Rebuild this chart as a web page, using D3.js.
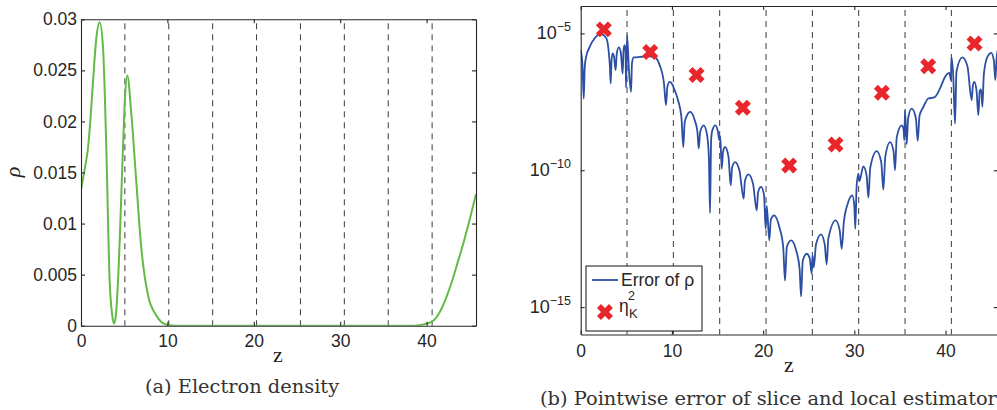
<!DOCTYPE html>
<html>
<head>
<meta charset="utf-8">
<script src="https://cdn.jsdelivr.net/npm/d3@7"></script>
<style>
  body { margin: 0; background: #fff; }
  svg { display: block; }
  .tick text { font-family: "Liberation Sans", Arial, sans-serif; font-size: 17.5px; fill: #262626; }
  .axis path, .axis line { stroke: #262626; stroke-width: 1.1; }
</style>
</head>
<body>
<script>
// slab length and slice boundaries
var zMax = 45.72;
var sliceEdges = [5.08, 10.16, 15.24, 20.32, 25.4, 30.48, 35.56, 40.64];
var zTicks = [0, 10, 20, 30, 40];
var rhoTicks = [0, 0.005, 0.01, 0.015, 0.02, 0.025, 0.03];
var errTicks = [1e-15, 1e-10, 1e-5];
var errTickExp = ["\u221215", "\u221210", "\u22125"];

// (a) electron density
var densityZ = [0, 0.4, 0.81, 1.1, 1.39, 1.78, 2.16, 2.55, 2.93, 3.32, 3.6, 3.82, 4.05, 4.28, 4.86, 5.1, 5.36, 5.83, 6.4, 6.98, 7.75, 8.72, 9.88, 11, 15, 20, 25, 30, 35, 38, 39, 40, 40.8, 41.5, 42.3, 43, 43.6, 44.2, 44.9, 45.72];
var densityRho = [0.0133, 0.0152, 0.0174, 0.0203, 0.0239, 0.0282, 0.0297, 0.0272, 0.0174, 0.0043, 0.0011, 0.0002, 0.0011, 0.0043, 0.0174, 0.0225, 0.0245, 0.0207, 0.0141, 0.0076, 0.003, 0.001, 0.0001, 0, 0, 0, 0, 0, 0, 0, 0.00003, 0.0002, 0.0005, 0.0013, 0.0028, 0.0045, 0.0062, 0.0079, 0.0101, 0.0129];

// (b) pointwise error of rho (log10 of value)
var errZ = [0, 0.2, 0.33, 0.45, 0.6, 0.99, 1.53, 2.19, 2.81, 3.05, 3.2, 3.29, 3.38, 3.5, 3.65, 3.83, 3.95, 4.17, 4.4, 4.6, 4.7, 4.82, 4.92, 4.97, 5.08, 5.3, 5.52, 5.62, 5.8, 6.5, 7.5, 8.1, 8.66, 9.13, 9.35, 9.5, 9.76, 10.0, 10.16, 10.67, 11.04, 11.25, 11.4, 11.58, 12.02, 12.5, 12.8, 12.94, 13.1, 13.49, 13.85, 14.05, 14.18, 14.3, 14.43, 14.76, 15.05, 15.2, 15.3, 15.46, 15.6, 15.82, 16.2, 16.45, 16.6, 16.92, 17.4, 17.87, 18.0, 18.38, 18.9, 19.3, 19.45, 19.77, 20.1, 20.28, 20.4, 20.68, 20.85, 21.2, 21.8, 22.2, 22.4, 22.6, 23.06, 23.6, 24.0, 24.16, 24.35, 24.78, 25.1, 25.33, 25.42, 25.55, 25.8, 26.35, 26.75, 26.97, 27.15, 27.96, 28.4, 28.62, 28.85, 29.3, 29.78, 30.0, 30.11, 30.25, 30.44, 30.55, 30.99, 31.35, 31.54, 31.75, 32.45, 32.95, 33.18, 33.4, 33.91, 34.3, 34.46, 34.65, 35.2, 35.4, 35.48, 35.56, 35.74, 35.9, 36.29, 36.75, 36.95, 37.15, 37.57, 38.11, 38.77, 39.4, 39.94, 40.42, 40.6, 40.64, 40.85, 41.04, 41.2, 41.84, 42.4, 42.87, 43.0, 43.16, 43.4, 43.6, 43.75, 43.9, 44.04, 44.2, 44.6, 45.02, 45.3, 45.46, 45.6, 45.72];
var errExp = [-5.61, -6.2, -7.38, -6.2, -5.85, -5.49, -5.18, -5.03, -5.18, -5.6, -6.2, -6.83, -6.0, -5.73, -5.85, -6.34, -5.75, -5.51, -5.7, -6.47, -5.6, -5.43, -5.7, -6.98, -5.06, -6.4, -7.14, -6.1, -5.88, -5.86, -5.84, -5.87, -6.16, -6.83, -7.62, -6.95, -6.77, -6.84, -6.95, -7.44, -8.05, -9.15, -8.25, -8.05, -7.87, -8.17, -8.6, -9.21, -8.6, -8.36, -8.7, -9.5, -11.56, -8.9, -8.54, -8.36, -8.6, -8.9, -8.75, -9.94, -9.35, -9.15, -9.5, -10.55, -9.9, -9.7, -10.0, -11.04, -10.4, -10.15, -10.5, -11.47, -10.8, -10.61, -10.9, -12.14, -11.3, -12.56, -11.8, -11.65, -12.1, -12.8, -14.03, -12.8, -12.56, -12.9, -13.6, -14.61, -13.3, -13.05, -13.2, -13.78, -13.1, -13.55, -12.7, -12.34, -12.7, -13.44, -12.5, -11.83, -12.2, -12.87, -11.9, -11.2, -10.92, -11.3, -12.14, -10.6, -10.12, -10.4, -9.86, -10.2, -11.0, -9.9, -9.3, -9.7, -10.71, -9.5, -8.97, -9.3, -10.0, -8.8, -8.36, -8.5, -8.9, -7.81, -9.05, -8.1, -7.75, -8.1, -8.93, -8.0, -7.69, -7.38, -7.34, -7.01, -6.59, -6.44, -6.71, -5.86, -6.6, -8.3, -6.4, -5.88, -6.2, -7.44, -6.9, -6.77, -7.1, -7.99, -7.1, -7.05, -7.68, -6.5, -5.85, -5.71, -6.0, -6.71, -5.9, -5.61];

// (b) local estimator eta_K^2, one per slice
var etaZ = [2.54, 7.62, 12.7, 17.78, 22.86, 27.94, 33.02, 38.1, 43.18];
var etaVal = [1.4e-5, 2.1e-6, 3.0e-7, 1.9e-8, 1.5e-10, 8.7e-10, 6.8e-8, 6.3e-7, 4.3e-6];

var svg = d3.select("body").append("svg")
    .attr("width", 997)
    .attr("height", 410);

var defs = svg.append("defs");

function frame(g, x, y, yTicks, fmt, padBottom, padLeft) {
    var x0 = x.range()[0], x1 = x.range()[1];
    var y0 = y.range()[0], y1 = y.range()[1];
    g.append("g").attr("class", "axis")
        .attr("transform", "translate(0," + y0 + ")")
        .call(d3.axisBottom(x).tickValues(zTicks).tickSize(-4).tickSizeOuter(0).tickPadding(padBottom).tickFormat(d3.format("d")));
    g.append("g").attr("class", "axis")
        .attr("transform", "translate(0," + y1 + ")")
        .call(d3.axisTop(x).tickValues(zTicks).tickSize(-4).tickSizeOuter(0).tickFormat(""));
    g.append("g").attr("class", "axis")
        .attr("transform", "translate(" + x0 + ",0)")
        .call(d3.axisLeft(y).tickValues(yTicks).tickSize(-4).tickSizeOuter(0).tickPadding(padLeft).tickFormat(fmt));
    g.append("g").attr("class", "axis")
        .attr("transform", "translate(" + x1 + ",0)")
        .call(d3.axisRight(y).tickValues(yTicks).tickSize(-4).tickSizeOuter(0).tickFormat(""));
}

function slices(g, x, y) {
    g.selectAll(".slice")
        .data(sliceEdges)
        .enter().append("line")
        .attr("x1", function (d) { return x(d); })
        .attr("x2", function (d) { return x(d); })
        .attr("y1", y.range()[1] + 4)
        .attr("y2", y.range()[0])
        .attr("stroke", "#3a3a3a")
        .attr("stroke-width", 1)
        .attr("stroke-dasharray", "6,5");
}

// ---------- (a) ----------
var xa = d3.scaleLinear().domain([0, zMax]).range([81, 476]);
var ya = d3.scaleLinear().domain([0, 0.03]).range([325.7, 19.3]);

defs.append("clipPath").attr("id", "clipA").append("rect")
    .attr("x", 81).attr("y", 19.3).attr("width", 395).attr("height", 306.4);

var ga = svg.append("g");
slices(ga, xa, ya);

var densityData = densityZ.map(function (z, i) { return [z, densityRho[i]]; });
ga.append("path")
    .datum(densityData)
    .attr("clip-path", "url(#clipA)")
    .attr("fill", "none")
    .attr("stroke", "#62bb46")
    .attr("stroke-width", 2)
    .attr("d", d3.line()
        .x(function (d) { return xa(d[0]); })
        .y(function (d) { return ya(d[1]); })
        .curve(d3.curveMonotoneX));

frame(ga, xa, ya, rhoTicks, function (d) { return d === 0 ? "0" : String(+d.toFixed(3)); }, 9, 4);

ga.append("text")
    .attr("transform", "translate(20,172) rotate(-90)")
    .attr("text-anchor", "middle")
    .style("font-family", "'Liberation Serif', serif")
    .style("font-style", "italic")
    .style("font-size", "22px")
    .style("fill", "#222")
    .text("\u03c1");

ga.append("text")
    .attr("x", 278).attr("y", 362)
    .attr("text-anchor", "middle")
    .style("font-family", "'Liberation Serif', serif")
    .style("font-size", "22px")
    .style("fill", "#222")
    .text("z");

ga.append("text")
    .attr("x", 242).attr("y", 393)
    .attr("text-anchor", "middle")
    .style("font-family", "'DejaVu Serif', serif")
    .style("font-size", "19.4px")
    .style("fill", "#333")
    .text("(a) Electron density");

// ---------- (b) ----------
var xb = d3.scaleLinear().domain([0, zMax]).range([580.7, 997.7]);
var yb = d3.scaleLog().domain([1e-16, 1e-4]).range([334.5, 6]);

defs.append("clipPath").attr("id", "clipB").append("rect")
    .attr("x", 580.7).attr("y", 6).attr("width", 417).attr("height", 328.5);

var gb = svg.append("g");
slices(gb, xb, yb);

var errData = errZ.map(function (z, i) { return [z, Math.pow(10, errExp[i])]; });
gb.append("path")
    .datum(errData)
    .attr("clip-path", "url(#clipB)")
    .attr("fill", "none")
    .attr("stroke", "#2c4fa3")
    .attr("stroke-width", 1.8)
    .attr("d", d3.line()
        .x(function (d) { return xb(d[0]); })
        .y(function (d) { return yb(d[1]); })
        .curve(d3.curveMonotoneX));

var cross = d3.symbol().type(d3.symbolCross).size(160);
gb.selectAll(".eta")
    .data(etaZ)
    .enter().append("path")
    .attr("d", cross)
    .attr("fill", "#e8262b")
    .attr("transform", function (d, i) {
        return "translate(" + xb(d) + "," + yb(etaVal[i]) + ") rotate(45)";
    });

frame(gb, xb, yb, errTicks, function () { return ""; }, 10, 4);

var ylab = gb.selectAll(".ylab")
    .data(errTicks)
    .enter().append("text")
    .attr("x", 571)
    .attr("y", function (d) { return yb(d) + 6; })
    .attr("text-anchor", "end")
    .style("font-family", "'Liberation Sans', Arial, sans-serif")
    .style("font-size", "18px")
    .style("fill", "#262626");
ylab.append("tspan").text("10");
ylab.append("tspan")
    .attr("dy", -8)
    .style("font-size", "12.5px")
    .text(function (d, i) { return errTickExp[i]; });

gb.append("text")
    .attr("x", 789).attr("y", 372)
    .attr("text-anchor", "middle")
    .style("font-family", "'Liberation Serif', serif")
    .style("font-size", "22px")
    .style("fill", "#222")
    .text("z");

gb.append("text")
    .attr("x", 540).attr("y", 405)
    .style("font-family", "'DejaVu Serif', serif")
    .style("font-size", "19.4px")
    .style("fill", "#333")
    .text("(b) Pointwise error of slice and local estimator");

// legend
var lg = gb.append("g");
lg.append("rect")
    .attr("x", 586).attr("y", 266).attr("width", 116).attr("height", 65)
    .attr("fill", "#fff").attr("stroke", "#262626").attr("stroke-width", 1.1);
lg.append("line")
    .attr("x1", 592).attr("x2", 618).attr("y1", 280).attr("y2", 280)
    .attr("stroke", "#2c4fa3").attr("stroke-width", 1.8);
lg.append("text")
    .attr("x", 621).attr("y", 286)
    .style("font-family", "'Liberation Sans', Arial, sans-serif")
    .style("font-size", "17.5px")
    .style("fill", "#262626")
    .text("Error of \u03c1");
lg.append("path")
    .attr("d", cross)
    .attr("fill", "#e8262b")
    .attr("transform", "translate(605,312) rotate(45)");
lg.append("text")
    .attr("x", 619).attr("y", 312)
    .style("font-family", "'Liberation Sans', Arial, sans-serif")
    .style("font-size", "17.5px")
    .style("fill", "#262626")
    .text("\u03b7");
lg.append("text")
    .attr("x", 628).attr("y", 300)
    .style("font-family", "'Liberation Sans', Arial, sans-serif")
    .style("font-size", "12.5px")
    .style("fill", "#262626")
    .text("2");
lg.append("text")
    .attr("x", 629).attr("y", 318)
    .style("font-family", "'Liberation Sans', Arial, sans-serif")
    .style("font-size", "13px")
    .style("fill", "#262626")
    .text("K");
</script>
</body>
</html>
